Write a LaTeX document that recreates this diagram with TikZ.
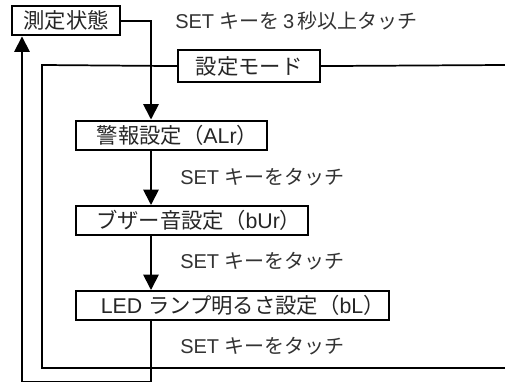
\documentclass[tikz,border=0pt]{standalone}
\usepackage{fontspec}
\setmainfont{Liberation Sans}
\newfontfamily\jp{Noto Sans CJK JP}
\usetikzlibrary{arrows.meta,calc}
\newcommand{\bigtxt}{\fontsize{16pt}{18pt}\selectfont}
\newcommand{\smalltxt}{\fontsize{15pt}{17pt}\selectfont}
\tikzset{
 stbox/.style={draw=black,line width=1.6pt,fill=white,anchor=north west,inner sep=0pt,font=\bigtxt,text=black!85,align=center},
 lbl/.style={anchor=west,inner sep=0pt,font=\smalltxt,text=black!80},
 conn/.style={draw=black,line width=1.3pt},
 arr/.style={conn,-{Triangle[length=11.5pt,width=11.5pt]}}
}
\begin{document}
\begin{tikzpicture}[x=0.75pt,y=-0.75pt]
\useasboundingbox (0,0) rectangle (505,382);
\fill[white] (0,0) rectangle (505,382);
\clip (0,0) rectangle (505,382);
\coordinate (rightf) at (505,65);
\coordinate (rightb) at (505,368);
\coordinate (leftf) at (42,65);
\coordinate (leftb) at (42,368);
\coordinate (bl) at (22,381.5);
\coordinate (br) at (151,381.5);
\coordinate (col) at (151,0);
\node[stbox,minimum width=81pt,minimum height=22pt] (meas) at (11,5) {{\jp 測定状態}};
\node[stbox,minimum width=106.5pt,minimum height=24pt] (mode) at (177,49) {{\jp 設定モード}};
\node[stbox,minimum width=143pt,minimum height=22pt] (alr) at (75,119.5) {\hspace{9pt}{\jp 警報設定（}ALr{\jp ）}};
\node[stbox,minimum width=174pt,minimum height=22pt] (bur) at (75,205) {\hspace{10pt}{\jp ブザー音設定（}bUr{\jp ）}};
\node[stbox,minimum width=235pt,minimum height=22pt] (bl1) at (75,290) {\hspace{15pt}LED {\jp ランプ明るさ設定（}bL{\jp ）}};
\node[lbl] (t1) at (175,20.5) {SET {\jp キーを}\,3\,{\jp 秒以上タッチ}};
\node[lbl] (t2) at (180,177) {SET {\jp キーをタッチ}};
\node[lbl] (t3) at (180,261) {SET {\jp キーをタッチ}};
\node[lbl] (t4) at (180,346) {SET {\jp キーをタッチ}};
\draw[conn] (mode.west) -- (leftf) -- (leftb) -- (rightb);
\draw[conn] (mode.east) -- (rightf);
\draw[arr] (meas.east) -| (alr.north -| col);
\draw[arr] (alr.south -| col) -- (bur.north -| col);
\draw[arr] (bur.south -| col) -- (bl1.north -| col);
\draw[conn] (bl1.south -| col) -- (br) -- (bl);
\draw[arr] (bl) -- (meas.south -| bl);
\end{tikzpicture}
\end{document}
